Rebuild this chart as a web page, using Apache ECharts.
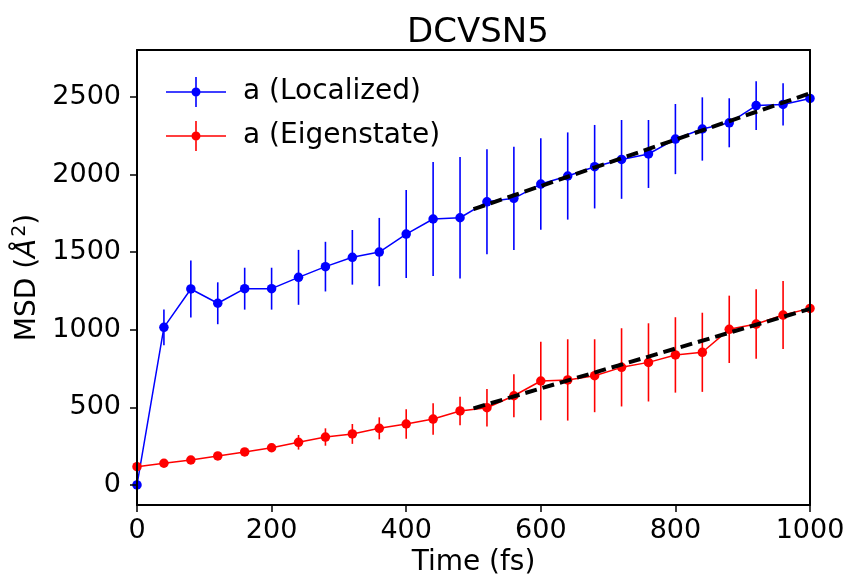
<!DOCTYPE html>
<html>
<head>
<meta charset="utf-8">
<script src="https://cdn.jsdelivr.net/npm/echarts@6/dist/echarts.min.js"></script>
<style>
  html, body { margin: 0; padding: 0; background: #fff; }
  #chart { width: 849px; height: 575px; }
</style>
</head>
<body>
<div id="chart"></div>
<script>
// time axis (fs)
var times = [0, 40, 80, 120, 160, 200, 240, 280, 320, 360, 400, 440, 480,
  520, 560, 600, 640, 680, 720, 760, 800, 840, 880, 920, 960, 1000];

// a (Localized)
var locMsd = [0, 1016, 1263, 1171, 1265, 1265, 1338, 1407, 1467, 1501, 1617, 1714, 1722,
  1825, 1847, 1939, 1991, 2051, 2098, 2133, 2229, 2294, 2334, 2445, 2452, 2491];
var locErr = [0, 115, 183, 135, 135, 135, 177, 160, 176, 220, 284, 367, 391,
  338, 333, 295, 281, 269, 254, 219, 226, 204, 158, 157, 136, 180];

// a (Eigenstate)
var eigMsd = [118, 140, 161, 187, 213, 240, 275, 309, 329, 365, 393, 425, 477,
  498, 575, 670, 677, 704, 758, 790, 838, 855, 1003, 1037, 1095, 1138];
var eigErr = [0, 10, 12, 15, 18, 22, 47, 56, 64, 71, 95, 101, 92,
  121, 138, 253, 262, 235, 252, 252, 243, 255, 217, 224, 219, 200];

// linear fits (dashed)
var fitX = [500, 1000];
var locFit = [1777, 2524];
var eigFit = [494, 1135];

var yTicks = [0, 500, 1000, 1500, 2000, 2500];

var FONT = "DejaVu Sans";
var BLUE = "#0000ff";
var RED = "#ff0000";

// legend icon: line + marker + vertical error bar
var errIcon = "path://M0,14.2H60V15.8H0Z M29.2,0H30.8V30H29.2Z M34.5,15A4.5,4.5,0,1,1,25.5,15A4.5,4.5,0,1,1,34.5,15Z";

function pairs(xs, ys) {
  return xs.map(function (x, i) { return [x, ys[i]]; });
}
function bars(xs, ys, es) {
  return xs.map(function (x, i) { return [x, ys[i] - es[i], ys[i] + es[i]]; });
}
function plain(v) { return String(v); }
function errBarSeries(name, color, data) {
  return {
    name: name,
    type: "custom",
    itemStyle: { color: color },
    z: 2,
    encode: { x: 0, y: [1, 2] },
    data: data,
    renderItem: function (params, api) {
      var p1 = api.coord([api.value(0), api.value(1)]);
      var p2 = api.coord([api.value(0), api.value(2)]);
      return {
        type: "line",
        shape: { x1: p1[0], y1: p1[1], x2: p2[0], y2: p2[1] },
        style: { stroke: color, lineWidth: 1.6 }
      };
    }
  };
}

var chart = echarts.init(document.getElementById("chart"));

var frameLine = { show: true, onZero: false, lineStyle: { color: "#000", width: 2 } };

chart.setOption({
  animation: false,
  backgroundColor: "#ffffff",
  textStyle: { fontFamily: FONT },
  title: {
    text: "DCVSN5",
    left: 473,
    top: 11,
    textAlign: "center",
    textStyle: { fontFamily: FONT, fontSize: 34, fontWeight: "normal", color: "#000" }
  },
  legend: {
    left: 161,
    top: 72,
    orient: "vertical",
    itemWidth: 60,
    itemHeight: 30,
    itemGap: 14,
    textStyle: { fontFamily: FONT, fontSize: 28, color: "#000", padding: [0, 0, 0, 12] },
    data: [
      { name: "a (Localized)", icon: errIcon },
      { name: "a (Eigenstate)", icon: errIcon }
    ]
  },
  grid: { left: 137, right: 39, top: 50, bottom: 70, containLabel: false, outerBoundsMode: "none" },
  xAxis: [
    {
      type: "value",
      min: 0,
      max: 1000,
      interval: 200,
      z: 10,
      name: "Time (fs)",
      nameLocation: "middle",
      nameGap: 35,
      nameTextStyle: { fontFamily: FONT, fontSize: 28, color: "#000" },
      splitLine: { show: false },
      axisLine: frameLine,
      axisTick: { show: true, length: 7, lineStyle: { color: "#000", width: 1.5 } },
      axisLabel: { fontFamily: FONT, fontSize: 27, color: "#000", margin: 12, formatter: plain }
    },
    {
      type: "value",
      position: "top",
      min: 0,
      max: 1000,
      z: 10,
      splitLine: { show: false },
      axisLine: frameLine,
      axisTick: { show: false },
      axisLabel: { show: false }
    }
  ],
  yAxis: [
    {
      type: "value",
      min: -129,
      max: 2803,
      z: 10,
      name: "MSD ({i|Å}{s|2})",
      nameLocation: "middle",
      nameRotate: 90,
      nameGap: 78,
      nameTextStyle: {
        fontFamily: FONT, fontSize: 28, color: "#000",
        rich: {
          i: { fontFamily: FONT, fontSize: 28, fontStyle: "italic", color: "#000" },
          s: { fontFamily: FONT, fontSize: 19, color: "#000", padding: [0, 0, 14, 2] }
        }
      },
      splitLine: { show: false },
      axisLine: frameLine,
      axisTick: { show: true, length: 7, customValues: yTicks, lineStyle: { color: "#000", width: 1.5 } },
      axisLabel: { fontFamily: FONT, fontSize: 27, color: "#000", margin: 16, customValues: yTicks, formatter: plain }
    },
    {
      type: "value",
      position: "right",
      min: -129,
      max: 2803,
      z: 10,
      splitLine: { show: false },
      axisLine: frameLine,
      axisTick: { show: false },
      axisLabel: { show: false }
    }
  ],
  series: [
    errBarSeries("a (Localized)", BLUE, bars(times, locMsd, locErr)),
    errBarSeries("a (Eigenstate)", RED, bars(times, eigMsd, eigErr)),
    {
      name: "loc-line",
      type: "line",
      z: 3,
      data: pairs(times, locMsd),
      symbol: "circle",
      symbolSize: 9.5,
      itemStyle: { color: BLUE },
      lineStyle: { color: BLUE, width: 1.5 }
    },
    {
      name: "eig-line",
      type: "line",
      z: 3,
      data: pairs(times, eigMsd),
      symbol: "circle",
      symbolSize: 9.5,
      itemStyle: { color: RED },
      lineStyle: { color: RED, width: 1.5 }
    },
    {
      name: "loc-fit",
      type: "line",
      z: 4,
      data: pairs(fitX, locFit),
      symbol: "none",
      lineStyle: { color: "#000", width: 4, type: [12, 6] }
    },
    {
      name: "eig-fit",
      type: "line",
      z: 4,
      data: pairs(fitX, eigFit),
      symbol: "none",
      lineStyle: { color: "#000", width: 4, type: [12, 6] }
    }
  ]
});
</script>
</body>
</html>
